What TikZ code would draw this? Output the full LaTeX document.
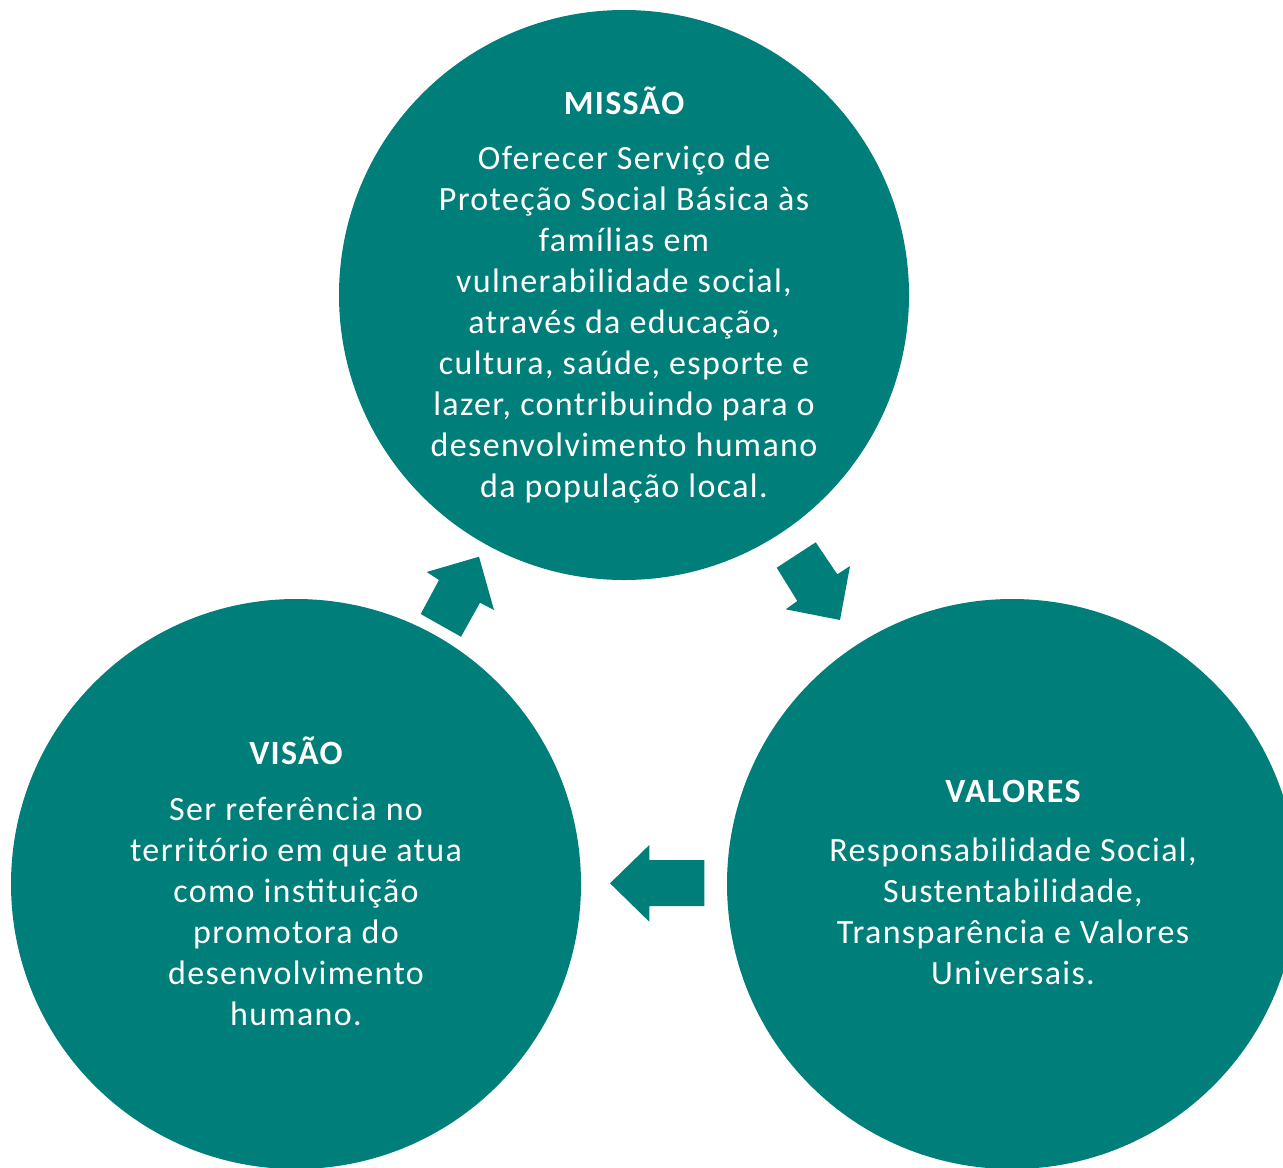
\documentclass[tikz,border=0pt]{standalone}
\usepackage{fontspec}
\setmainfont{Carlito}[LetterSpace=4]
\definecolor{teal1}{HTML}{007E79}
\begin{document}
\begin{tikzpicture}[x=0.5pt,y=-0.5pt,
  disc/.style={circle,fill=teal1,minimum size=285pt,inner sep=0pt},
  ttl/.style={text=white,font=\fontsize{17}{20.5}\selectfont\bfseries,inner sep=0pt},
  body/.style={text=white,font=\fontsize{17}{20.5}\selectfont,align=center,inner sep=0pt},
  blk/.style={fill=teal1}]
\useasboundingbox (0,0) rectangle (1283,1167);
\node[disc] (missao) at (624,295) {};
\node[disc] (visao) at (296,884) {};
\node[disc] (valores) at (1012,884) {};
\node[ttl] (t1) at (624,101) {MISSÃO};
\node[body] (b1) at (624,325) {Oferecer Serviço de\\Proteção Social Básica às\\famílias em\\vulnerabilidade social,\\através da educação,\\cultura, saúde, esporte e\\lazer, contribuindo para o\\desenvolvimento humano\\da população local.};
\node[ttl] (t2) at (296,751) {VISÃO};
\node[body] (b2) at (296,911) {Ser referência no\\território em que atua\\como instituição\\promotora do\\desenvolvimento\\humano.};
\node[ttl] (t3) at (1013,791) {VALORES};
\node[body] (b3) at (1013,911) {Responsabilidade Social,\\Sustentabilidade,\\Transparência e Valores\\Universais.};
% arrow missao -> valores
\fill[blk] (776.7,567.7) -- (815.7,542.3) -- (837.3,574.3) -- (850,566) -- (840,620) -- (785.7,609.3) -- (797.3,601) -- cycle;
% arrow valores -> visao
\fill[blk] (704.3,860) -- (649.3,860) -- (649.3,845) -- (610,883.3) -- (649.3,921.7) -- (649.3,906) -- (704.3,906) -- cycle;
% arrow visao -> missao
\fill[blk] (420.7,614) -- (439,580) -- (426.7,572) -- (479,556.7) -- (494,610) -- (480,602.7) -- (461,636.7) -- cycle;
\end{tikzpicture}
\end{document}
